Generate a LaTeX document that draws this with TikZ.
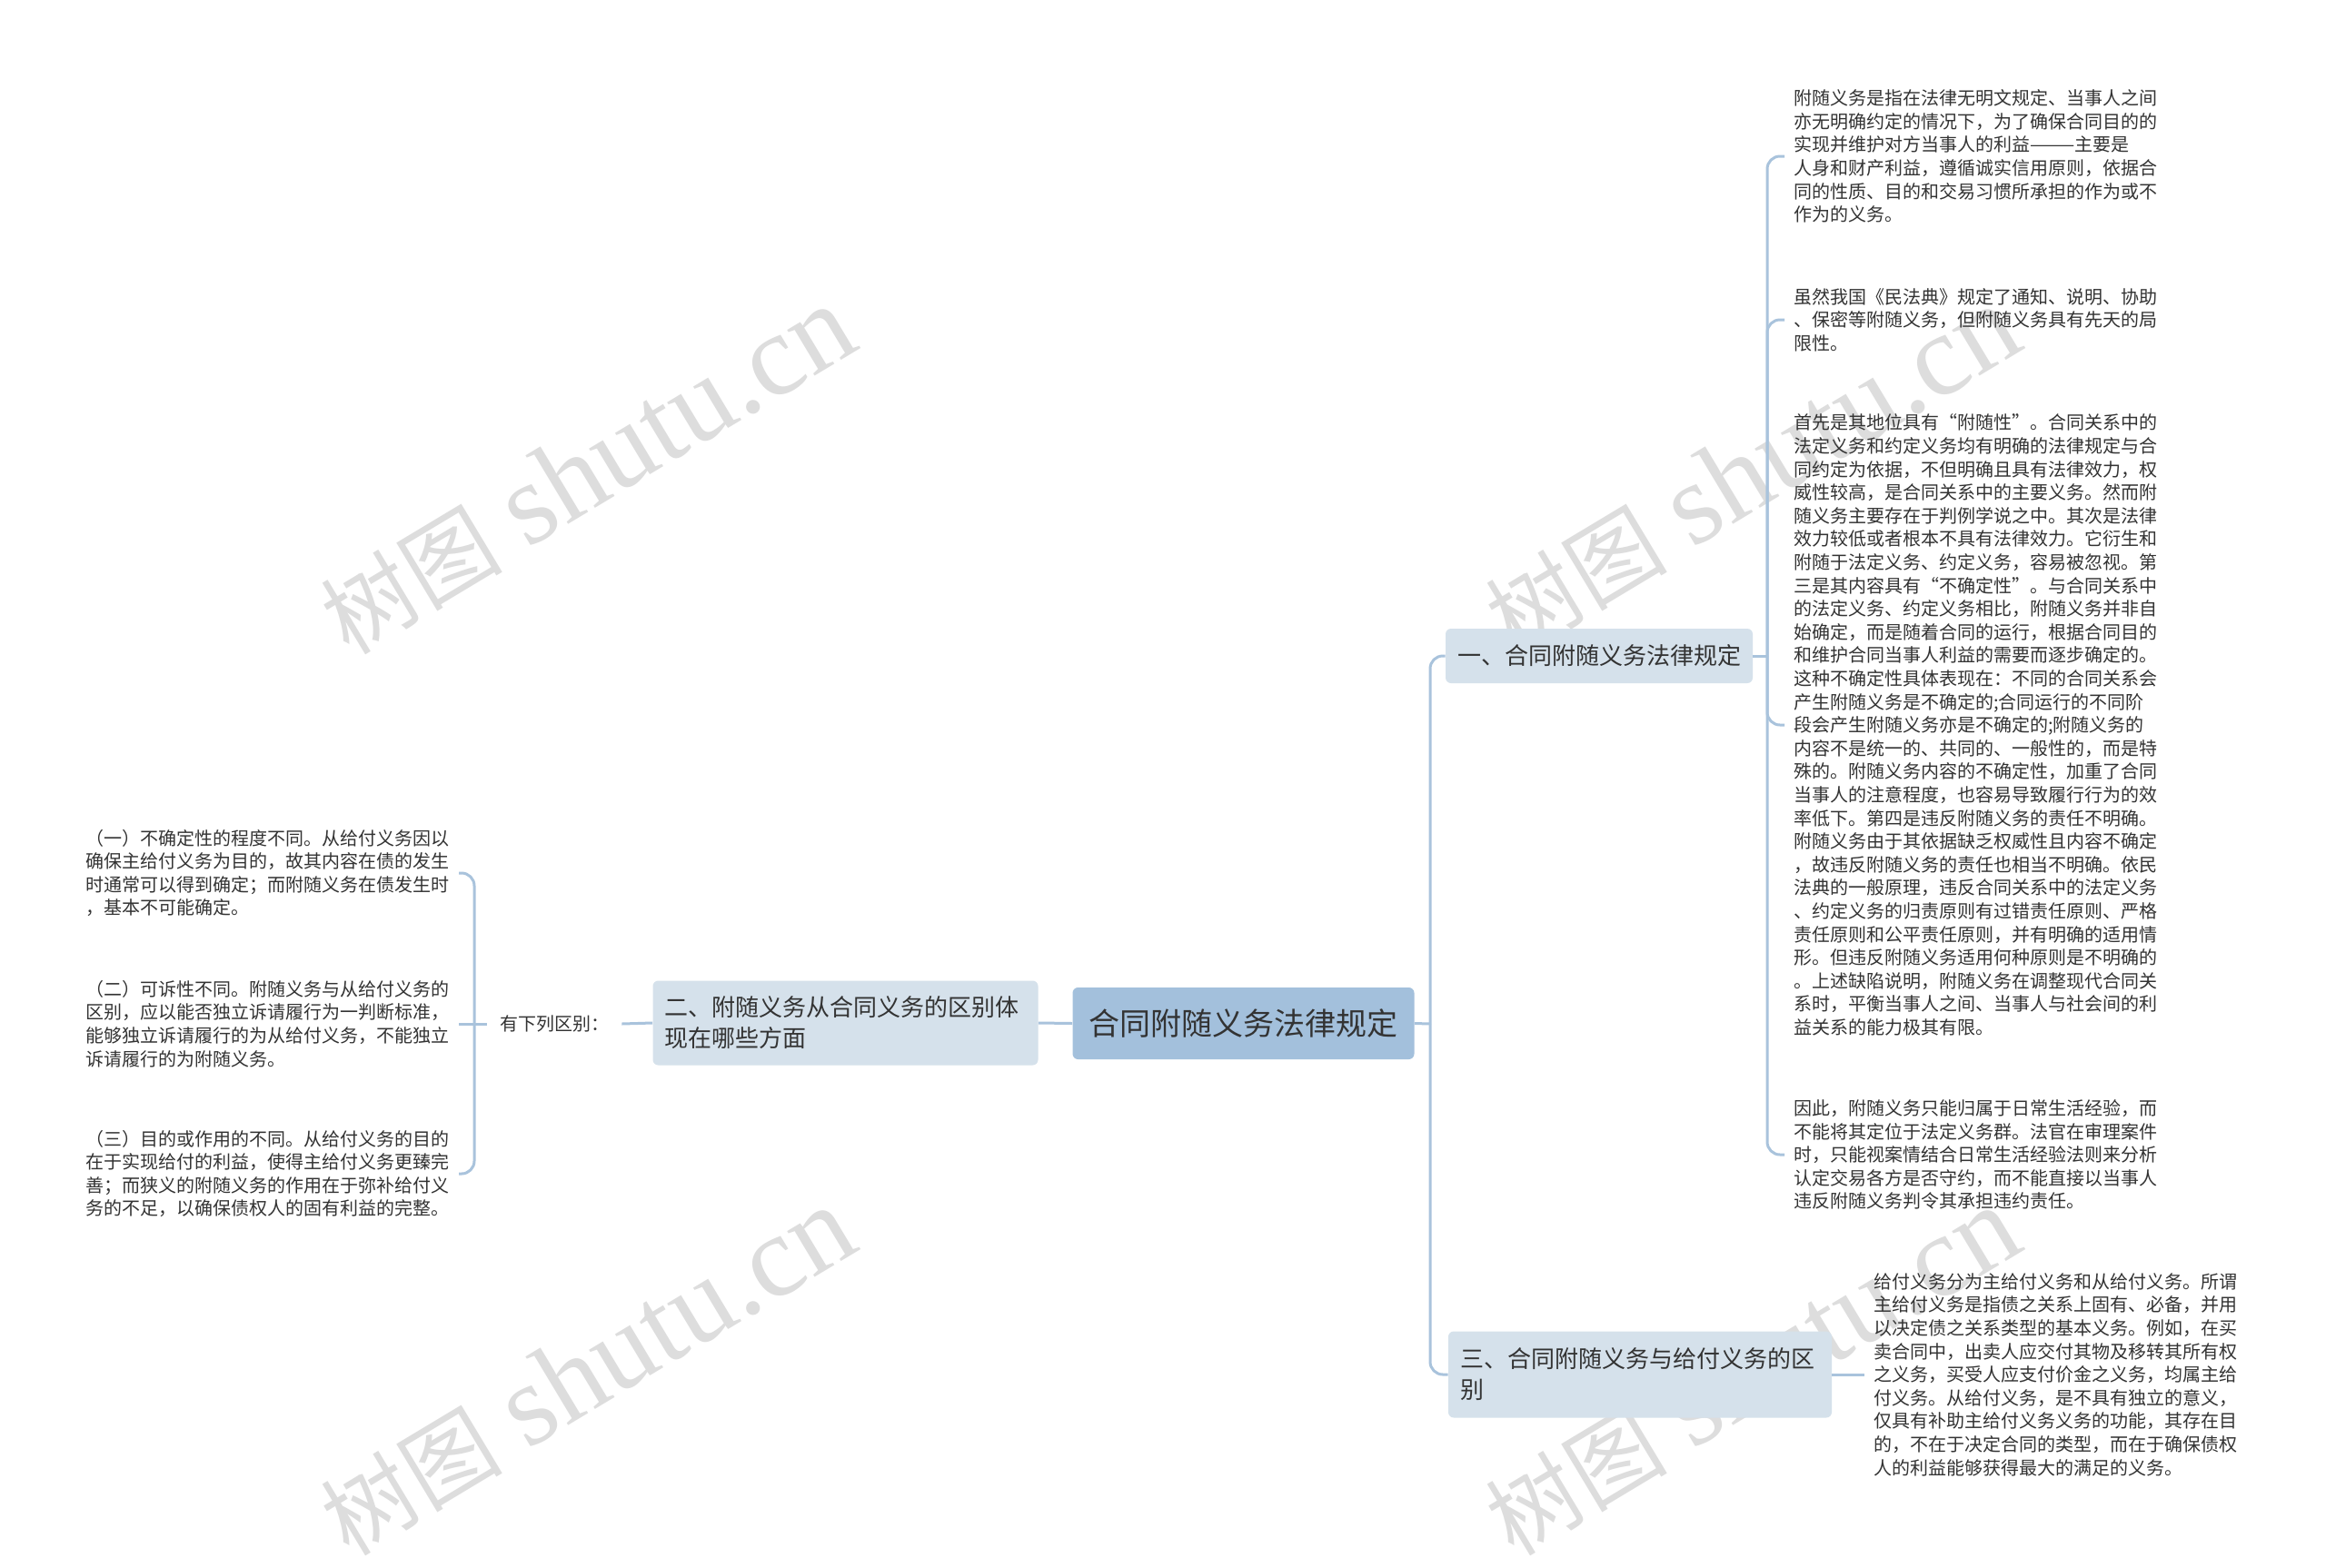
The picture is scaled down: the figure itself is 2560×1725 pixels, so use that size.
\documentclass[tikz,border=0pt]{standalone}
\usepackage{fontspec}
\setmainfont{Noto Sans CJK SC}
\newfontfamily\marklatin{Liberation Serif}
\newfontfamily\markcjk{Noto Sans CJK SC}
\definecolor{rootblue}{HTML}{A3C0DC}
\definecolor{topicblue}{HTML}{D5E1EB}
\definecolor{linkblue}{HTML}{A9C3DC}
\definecolor{inkgray}{HTML}{333333}
\definecolor{markgray}{HTML}{DDDDDD}
\tikzset{
  rootnode/.style={fill=rootblue, rounded corners=3pt, text=inkgray, minimum width=188pt, minimum height=39.5pt, font=\fontsize{17pt}{20pt}\selectfont},
  topicnode/.style={fill=topicblue, rounded corners=3pt, text=inkgray, align=left, inner xsep=6.5pt, font=\fontsize{13pt}{17pt}\selectfont},
  leafnode/.style={align=left, text=inkgray, inner xsep=5pt, inner ysep=0pt, font=\fontsize{10pt}{12.8pt}\selectfont},
  link/.style={draw=linkblue, line width=1.5pt},
  elbowlink/.style={link, rounded corners=7pt},
  watermark/.style={text=markgray, rotate=31, font=\fontsize{64pt}{68pt}\selectfont}
}
\begin{document}
\begin{tikzpicture}[x=0.5pt, y=-0.5pt]
    \useasboundingbox (0,0) rectangle (2560,1725);
    \fill[white] (0,0) rectangle (2560,1725);
    %
    \foreach \wx/\wy/\wn in {646/518/1, 1928/518/2, 646/1510/3, 1928/1510/4}
      \node[watermark] (mark\wn) at (\wx,\wy) {{\markcjk\fontsize{50pt}{54pt}\selectfont 树图} {\marklatin shutu.cn}};
    %%%%%%%%%%%%%%%%%%%%%%
    \node[rootnode] (root) at (1368.5,1126.5) {合同附随义务法律规定};
    %
    \node[topicnode, minimum height=30pt] (topic1) at (1760,722) {一、合同附随义务法律规定};
    %
    \node[topicnode, text width=199pt, minimum height=46.5pt] (topic2) at (930.5,1126) {二、附随义务从合同义务的区别体\\现在哪些方面};
    %
    \node[topicnode, text width=198pt, minimum height=47.5pt] (topic3) at (1805,1513) {三、合同附随义务与给付义务的区\\别};
    %%%%%%%%%%%%%%%%%%%%%%
    \node[leafnode, anchor=west] (leafA) at (1964,172) {附随义务是指在法律无明文规定、当事人之间\\
亦无明确约定的情况下，为了确保合同目的的\\
实现并维护对方当事人的利益———主要是\\
人身和财产利益，遵循诚实信用原则，依据合\\
同的性质、目的和交易习惯所承担的作为或不\\
作为的义务。};
    %
    \node[leafnode, anchor=west] (leafB) at (1964,352) {虽然我国《民法典》规定了通知、说明、协助\\
、保密等附随义务，但附随义务具有先天的局\\
限性。};
    %
    \node[leafnode, anchor=west] (leafC) at (1964,798) {首先是其地位具有“附随性”。合同关系中的\\
法定义务和约定义务均有明确的法律规定与合\\
同约定为依据，不但明确且具有法律效力，权\\
威性较高，是合同关系中的主要义务。然而附\\
随义务主要存在于判例学说之中。其次是法律\\
效力较低或者根本不具有法律效力。它衍生和\\
附随于法定义务、约定义务，容易被忽视。第\\
三是其内容具有“不确定性”。与合同关系中\\
的法定义务、约定义务相比，附随义务并非自\\
始确定，而是随着合同的运行，根据合同目的\\
和维护合同当事人利益的需要而逐步确定的。\\
这种不确定性具体表现在：不同的合同关系会\\
产生附随义务是不确定的;合同运行的不同阶\\
段会产生附随义务亦是不确定的;附随义务的\\
内容不是统一的、共同的、一般性的，而是特\\
殊的。附随义务内容的不确定性，加重了合同\\
当事人的注意程度，也容易导致履行行为的效\\
率低下。第四是违反附随义务的责任不明确。\\
附随义务由于其依据缺乏权威性且内容不确定\\
，故违反附随义务的责任也相当不明确。依民\\
法典的一般原理，违反合同关系中的法定义务\\
、约定义务的归责原则有过错责任原则、严格\\
责任原则和公平责任原则，并有明确的适用情\\
形。但违反附随义务适用何种原则是不明确的\\
。上述缺陷说明，附随义务在调整现代合同关\\
系时，平衡当事人之间、当事人与社会间的利\\
益关系的能力极其有限。};
    %
    \node[leafnode, anchor=west] (leafD) at (1964,1271) {因此，附随义务只能归属于日常生活经验，而\\
不能将其定位于法定义务群。法官在审理案件\\
时，只能视案情结合日常生活经验法则来分析\\
认定交易各方是否守约，而不能直接以当事人\\
违反附随义务判令其承担违约责任。};
    %
    \node[leafnode, anchor=west] (leafE) at (2052,1513) {给付义务分为主给付义务和从给付义务。所谓\\
主给付义务是指债之关系上固有、必备，并用\\
以决定债之关系类型的基本义务。例如，在买\\
卖合同中，出卖人应交付其物及移转其所有权\\
之义务，买受人应支付价金之义务，均属主给\\
付义务。从给付义务，是不具有独立的意义，\\
仅具有补助主给付义务义务的功能，其存在目\\
的，不在于决定合同的类型，而在于确保债权\\
人的利益能够获得最大的满足的义务。};
    %%%%%%%%%%%%%%%%%%%%%%
    \node[leafnode, inner xsep=7pt] (diff) at (610,1127) {有下列区别：};
    %
    \node[leafnode, anchor=east] (leafL1) at (505,961) {（一）不确定性的程度不同。从给付义务因以\\
确保主给付义务为目的，故其内容在债的发生\\
时通常可以得到确定；而附随义务在债发生时\\
，基本不可能确定。};
    %
    \node[leafnode, anchor=east] (leafL2) at (505,1127) {（二）可诉性不同。附随义务与从给付义务的\\
区别，应以能否独立诉请履行为一判断标准，\\
能够独立诉请履行的为从给付义务，不能独立\\
诉请履行的为附随义务。};
    %
    \node[leafnode, anchor=east] (leafL3) at (505,1292) {（三）目的或作用的不同。从给付义务的目的\\
在于实现给付的利益，使得主给付义务更臻完\\
善；而狭义的附随义务的作用在于弥补给付义\\
务的不足，以确保债权人的固有利益的完整。};
    %%%%%%%%%%%%%%%%%%%%%%
    \coordinate (forkR) at (1574,1127);
    \draw[link] (root.east) -- (forkR);
    \foreach \topic in {topic1,topic3}
      \draw[elbowlink] (forkR) |- (\topic.west);
    %
    \coordinate (forkA) at (1945,722);
    \draw[link] (topic1.east) -- (forkA);
    \foreach \leaf in {leafA,leafB,leafC,leafD}
      \draw[elbowlink] (forkA) |- (\leaf.west);
    %
    \draw[link] (topic3.east) -- (leafE.west);
    %
    \draw[link] (root.west) -- (topic2.east);
    \draw[link] (topic2.west) -- (diff.east);
    \draw[link] (diff.west) -- (leafL2.east);
    \coordinate (forkL) at (522,1127);
    \foreach \leaf in {leafL1,leafL3}
      \draw[elbowlink] (forkL) |- (\leaf.east);
\end{tikzpicture}
\end{document}
